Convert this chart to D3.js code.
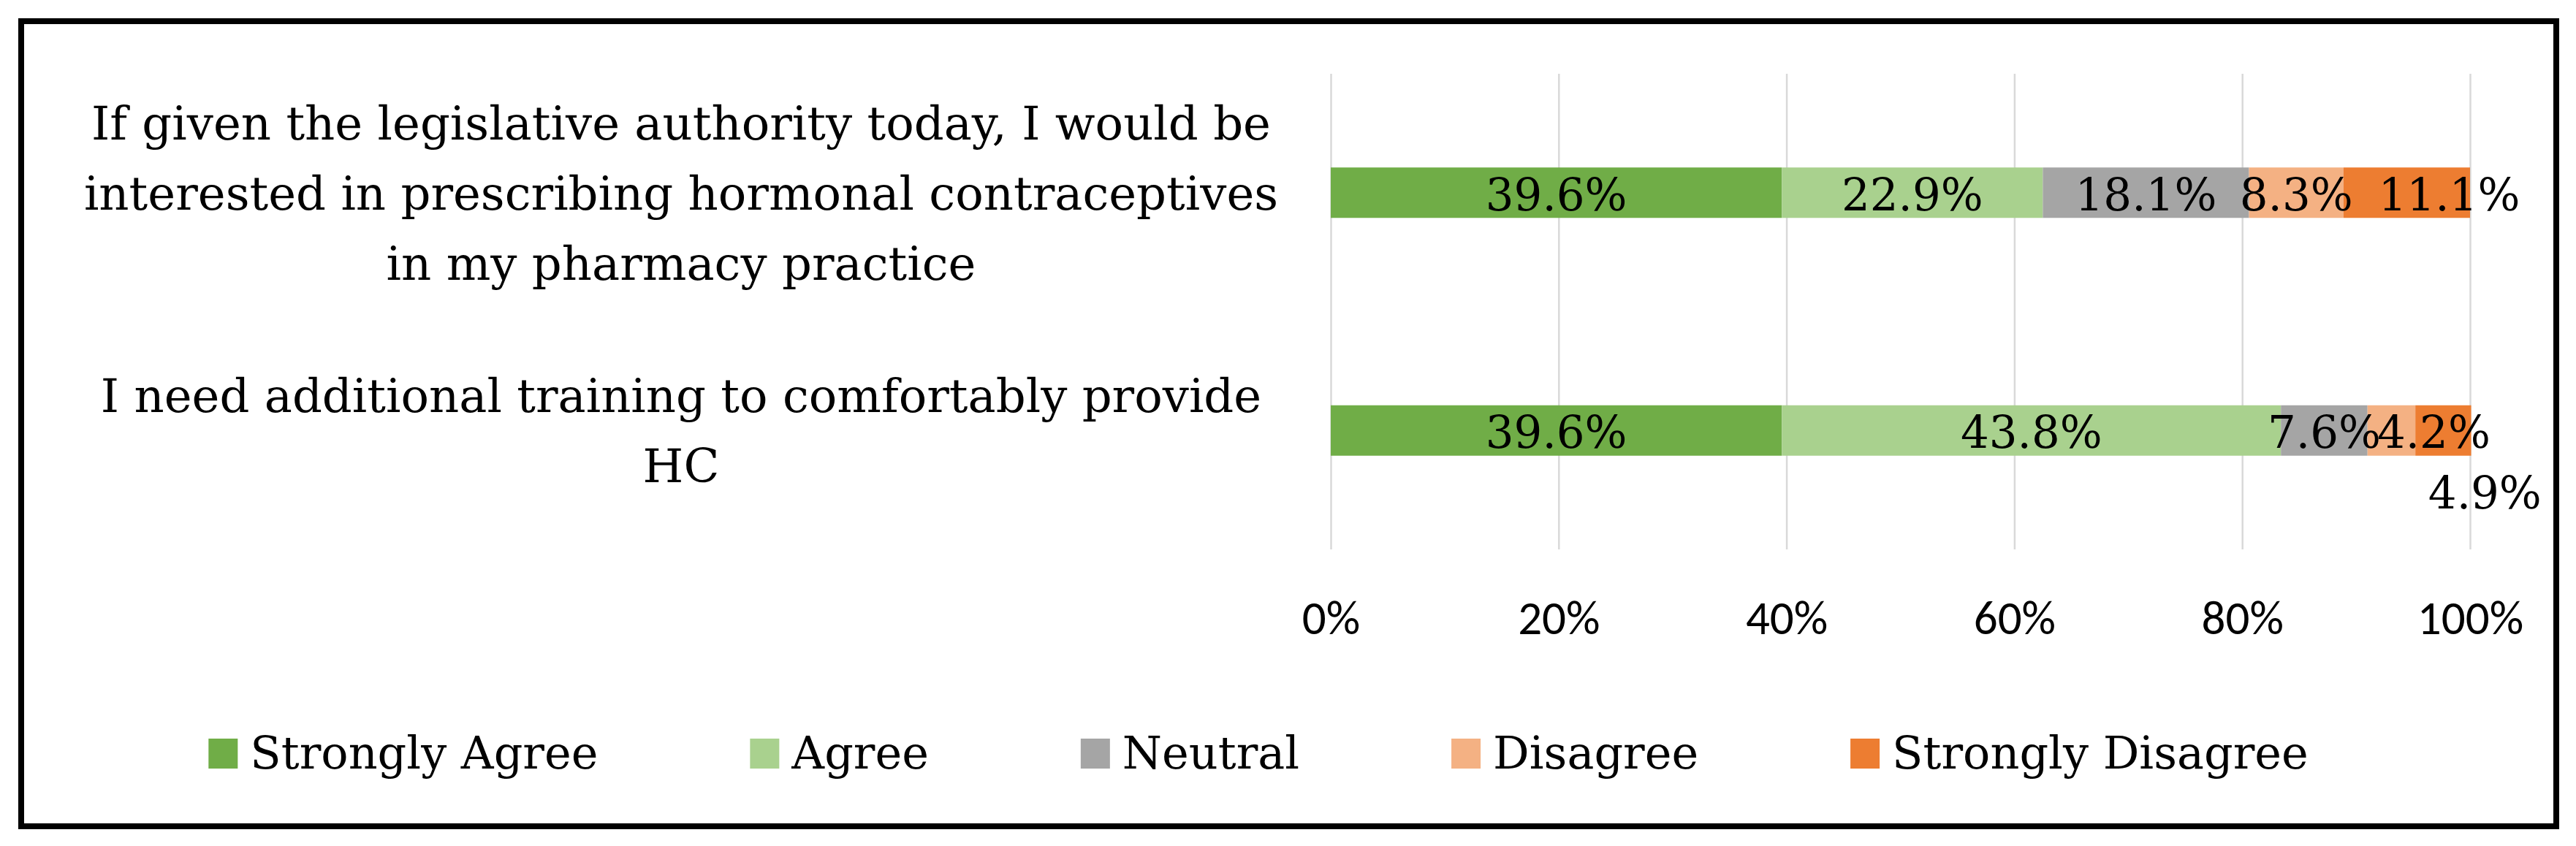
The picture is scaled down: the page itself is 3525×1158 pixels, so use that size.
<!DOCTYPE html>
<html>
<head>
<meta charset="utf-8">
<script src="https://cdn.jsdelivr.net/npm/d3@7"></script>
<style>
  body { margin: 0; background: #fff; }
  .serif { font-family: "Palatino Linotype", "Book Antiqua", Palatino, "DejaVu Serif", serif; fill: #000; }
  .tick text { font-family: Calibri, Lato, sans-serif; font-size: 65px; fill: #000; }
</style>
</head>
<body>
<div id="chart"></div>
<script>
// chart data
var categories = [
    "If given the legislative authority today, I would be\ninterested in prescribing hormonal contraceptives\nin my pharmacy practice",
    "I need additional training to comfortably provide\nHC"
];
var series = ["Strongly Agree", "Agree", "Neutral", "Disagree", "Strongly Disagree"];
var values = [
    [39.6, 22.9, 18.1, 8.3, 11.1],
    [39.6, 43.8, 7.6, 4.2, 4.9]
];
var colors = ["#70AD47", "#A9D18E", "#A5A5A5", "#F4B183", "#ED7D31"];
var tickValues = [0, 20, 40, 60, 80, 100];

var svgWidth = 3525;
var svgHeight = 1158;

var svg = d3.select("#chart")
    .append("svg")
    .attr("width", svgWidth)
    .attr("height", svgHeight);

// outer frame
svg.append("rect")
    .attr("x", 29)
    .attr("y", 29)
    .attr("width", 3469)
    .attr("height", 1102)
    .attr("fill", "none")
    .attr("stroke", "#000")
    .attr("stroke-width", 8);

var x = d3.scaleLinear().domain([0, 100]).range([1821, 3380]);
var y = d3.scaleBand().domain(categories).range([101, 752])
    .paddingInner(0.788).paddingOuter(0.394);

// gridlines
var grid = svg.append("g")
    .attr("transform", "translate(0,752)")
    .call(d3.axisBottom(x).tickValues(tickValues).tickSize(-651).tickFormat(""));
grid.select(".domain").remove();
grid.selectAll("line").attr("stroke", "#D9D9D9").attr("stroke-width", 2.5);

// x axis labels
var xAxis = svg.append("g")
    .attr("transform", "translate(0,752)")
    .call(d3.axisBottom(x).tickValues(tickValues).tickSize(0).tickPadding(70)
        .tickFormat(d => d + "%"));
xAxis.select(".domain").remove();

// stacked segments
var rows = [];
values.forEach((row, i) => {
    var start = 0;
    row.forEach((v, j) => {
        rows.push({cat: categories[i], row: i, s: j, x0: start, x1: start + v, v: v});
        start += v;
    });
});

svg.append("g").selectAll("rect")
    .data(rows)
    .enter()
    .append("rect")
    .attr("x", d => x(d.x0))
    .attr("y", d => y(d.cat))
    .attr("width", d => x(d.x1) - x(d.x0))
    .attr("height", y.bandwidth())
    .attr("fill", d => colors[d.s]);

// hand moved labels in the original
var nudge = {"0-4": [58, 0], "1-3": [58, 0], "1-4": [57, 83]};

svg.append("g").selectAll("text")
    .data(rows)
    .enter()
    .append("text")
    .attr("class", "serif")
    .attr("font-size", 61)
    .attr("text-anchor", "middle")
    .attr("x", d => (x(d.x0) + x(d.x1)) / 2 + (nudge[d.row + "-" + d.s] || [0, 0])[0])
    .attr("y", d => y(d.cat) + y.bandwidth() / 2 + 24 + (nudge[d.row + "-" + d.s] || [0, 0])[1])
    .text(d => d.v.toFixed(1) + "%");

// category labels
categories.forEach(c => {
    var lines = c.split("\n");
    var cy = y(c) + y.bandwidth() / 2;
    var lh = 96;
    var t = svg.append("text")
        .attr("class", "serif")
        .attr("font-size", 64)
        .attr("text-anchor", "middle");
    lines.forEach((l, k) => {
        t.append("tspan")
            .attr("x", 932)
            .attr("y", cy + (k - (lines.length - 1) / 2) * lh + 23)
            .text(l);
    });
});

// legend
var legend = svg.append("g");
var lx = 0;
var gap = 208;
series.forEach((s, i) => {
    var item = legend.append("g").attr("transform", `translate(${lx},0)`);
    item.append("rect")
        .attr("x", 0)
        .attr("y", 1011)
        .attr("width", 40)
        .attr("height", 41)
        .attr("fill", colors[i]);
    var txt = item.append("text")
        .attr("class", "serif")
        .attr("font-size", 62)
        .attr("x", 57)
        .attr("y", 1052)
        .text(s);
    lx += 57 + txt.node().getComputedTextLength() + gap;
});
var legendW = lx - gap;
legend.attr("transform", `translate(${1722 - legendW / 2},0)`);
</script>
</body>
</html>
